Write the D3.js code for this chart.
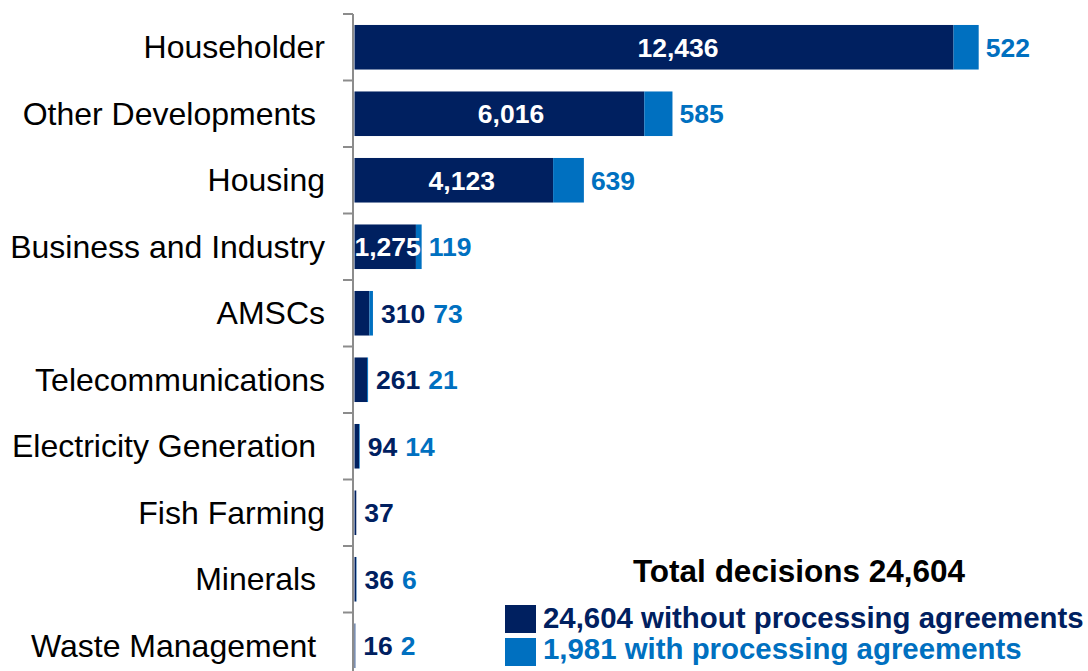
<!DOCTYPE html>
<html>
<head>
<meta charset="utf-8">
<script src="https://cdn.jsdelivr.net/npm/d3@7"></script>
<style>
  body { margin: 0; background: #fff; }
  svg { display: block; font-family: "Liberation Sans", Arial, sans-serif; }
</style>
</head>
<body>
<script>
// Chart data: decisions by development type
var categories = ["Householder", "Other Developments ", "Housing", "Business and Industry",
    "AMSCs", "Telecommunications", "Electricity Generation ", "Fish Farming",
    "Minerals ", "Waste Management "];
var without = [12436, 6016, 4123, 1275, 310, 261, 94, 37, 36, 16];
var withPA = [522, 585, 639, 119, 73, 21, 14, 0, 6, 2];

var titleText = "Total decisions 24,604";
var legendText = ["24,604 without processing agreements", "1,981 with processing agreements"];

var width = 1088,
    height = 671;

var dark = "#002060",
    light = "#0070c0",
    axisGray = "#8c8c8c";

var svg = d3.select("body")
    .append("svg")
    .attr("width", width)
    .attr("height", height);

// Scales: bars grow from the axis at ~354px
var x = d3.scaleLinear()
    .domain([0, 14000])
    .range([354.5, 354.5 + 14000 * 0.04817]);

var y = d3.scaleBand()
    .domain(categories)
    .range([14, 14 + 66.5 * categories.length])
    .paddingInner(0.33)
    .paddingOuter(0.165);

var fmt = d3.format(",");

var rows = categories.map(function(c, i) {
    return { cat: c, a: without[i], b: withPA[i] };
});

// Dark segment (without processing agreements)
svg.append("g")
    .selectAll("rect")
    .data(rows)
    .enter().append("rect")
        .attr("x", x(0))
        .attr("y", function(d) { return y(d.cat); })
        .attr("width", function(d) { return x(d.a) - x(0); })
        .attr("height", y.bandwidth())
        .attr("fill", dark);

// Light segment (with processing agreements)
svg.append("g")
    .selectAll("rect")
    .data(rows)
    .enter().append("rect")
        .attr("x", function(d) { return x(d.a); })
        .attr("y", function(d) { return y(d.cat); })
        .attr("width", function(d) { return x(d.a + d.b) - x(d.a); })
        .attr("height", y.bandwidth())
        .attr("fill", light);

// Y axis: line with ticks on the left between categories
var axis = svg.append("g");
axis.append("line")
    .attr("x1", 353).attr("x2", 353)
    .attr("y1", y.range()[0]).attr("y2", height)
    .attr("stroke", axisGray)
    .attr("stroke-width", 2);
axis.selectAll(".tick")
    .data(categories)
    .enter().append("line")
        .attr("class", "tick")
        .attr("x1", 343).attr("x2", 353)
        .attr("y1", function(d) { return y(d) - y.step() * y.paddingInner() / 2; })
        .attr("y2", function(d) { return y(d) - y.step() * y.paddingInner() / 2; })
        .attr("stroke", axisGray)
        .attr("stroke-width", 2);

// Category labels
svg.append("g")
    .selectAll("text")
    .data(categories)
    .enter().append("text")
        .attr("x", 325)
        .attr("y", function(d) { return y(d) + y.bandwidth() / 2; })
        .attr("dy", "0.35em")
        .attr("text-anchor", "end")
        .attr("font-size", "32px")
        .attr("fill", "#000")
        .style("white-space", "pre")
        .text(function(d) { return d; });

// Value labels: white inside wide bars, dark outside narrow ones
var labels = svg.append("g")
    .attr("font-size", "26.5px")
    .attr("font-weight", "bold");

rows.forEach(function(d) {
    var cy = y(d.cat) + y.bandwidth() / 2;
    var barW = x(d.a) - x(0);
    var end = x(d.a + d.b);
    var next;
    if (barW > 55) {
        labels.append("text")
            .attr("x", x(d.a * 0.54))
            .attr("y", cy)
            .attr("dy", "0.35em")
            .attr("text-anchor", "middle")
            .attr("fill", "#fff")
            .text(fmt(d.a));
        next = end + 7;
    } else {
        var lx = Math.max(end + 8, 362);
        var t = labels.append("text")
            .attr("x", lx)
            .attr("y", cy)
            .attr("dy", "0.35em")
            .attr("fill", dark)
            .text(fmt(d.a));
        next = lx + t.node().getComputedTextLength() + 8;
    }
    if (d.b > 0) {
        labels.append("text")
            .attr("x", next)
            .attr("y", cy)
            .attr("dy", "0.35em")
            .attr("fill", light)
            .text(fmt(d.b));
    }
});

// Total and legend
svg.append("text")
    .attr("x", 799)
    .attr("y", 582)
    .attr("text-anchor", "middle")
    .attr("font-size", "31.5px")
    .attr("font-weight", "bold")
    .attr("fill", "#000")
    .text(titleText);

var legend = svg.append("g");
legend.selectAll("rect")
    .data([dark, light])
    .enter().append("rect")
        .attr("x", 505)
        .attr("y", function(d, i) { return 605 + i * 33; })
        .attr("width", 31)
        .attr("height", 28)
        .attr("fill", function(d) { return d; });
legend.selectAll("text")
    .data(legendText)
    .enter().append("text")
        .attr("x", 543)
        .attr("y", function(d, i) { return 628 + i * 31; })
        .attr("font-size", "29.4px")
        .attr("font-weight", "bold")
        .attr("fill", function(d, i) { return i == 0 ? dark : light; })
        .text(function(d) { return d; });
</script>
</body>
</html>
